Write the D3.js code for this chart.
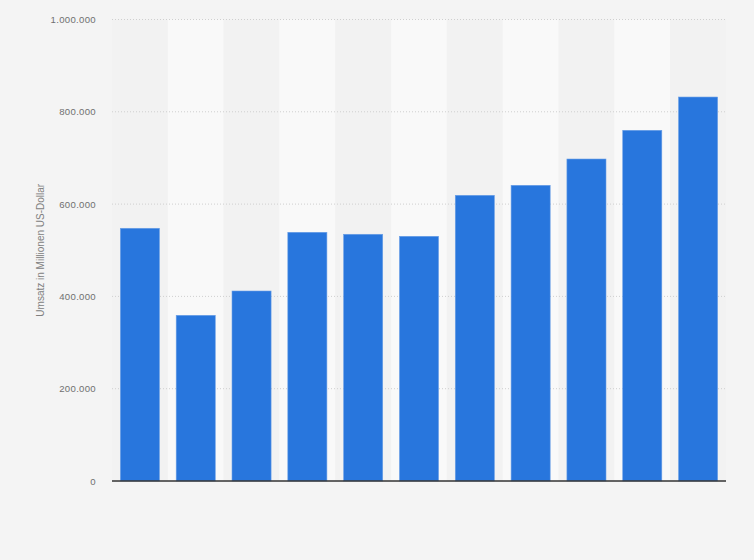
<!DOCTYPE html>
<html lang="de">
<head>
<meta charset="UTF-8">
<title>Umsatz</title>
<script src="https://d3js.org/d3.v7.min.js"></script>
<style>
  body { margin: 0; background: #f4f4f4; }
  svg { display: block; font-family: "Liberation Sans", Arial, sans-serif; }
</style>
</head>
<body>
<div id="chart"></div>
<script>
// Werte in Millionen US-Dollar
const categories = ["1", "2", "3", "4", "5", "6", "7", "8", "9", "10", "11"];
const values = [547600, 359000, 411700, 538900, 534600, 530200, 619000, 640700, 697700, 759900, 832000];
const yTicks = [0, 200000, 400000, 600000, 800000, 1000000];

const width = 754, height = 560;
const margin = { top: 19.5, right: 28, bottom: 79, left: 112 };
const innerW = width - margin.left - margin.right;
const innerH = height - margin.top - margin.bottom;

const svg = d3.select("#chart").append("svg")
  .attr("width", width)
  .attr("height", height);

svg.append("rect")
  .attr("width", width).attr("height", height)
  .attr("fill", "#f4f4f4");

const g = svg.append("g")
  .attr("transform", `translate(${margin.left},${margin.top})`);

const x = d3.scaleBand()
  .domain(categories)
  .range([0, innerW])
  .paddingInner(0.3)
  .paddingOuter(0.15);

const y = d3.scaleLinear()
  .domain([0, 1000000])
  .range([innerH, 0]);

// Spaltenhintergrund (abwechselnd)
const step = x.step();
g.selectAll(".stripe")
  .data(categories)
  .join("rect")
  .attr("class", "stripe")
  .attr("x", (d, i) => i * step)
  .attr("y", 0)
  .attr("width", step)
  .attr("height", innerH)
  .attr("fill", (d, i) => i % 2 ? "#f9f9f9" : "#f2f2f2");

// Gitternetz
const fmt = d3.formatLocale({ decimal: ",", thousands: ".", grouping: [3], currency: ["", " €"] }).format(",d");

g.selectAll(".grid")
  .data(yTicks.filter(d => d > 0))
  .join("line")
  .attr("class", "grid")
  .attr("x1", 0).attr("x2", innerW)
  .attr("y1", d => y(d)).attr("y2", d => y(d))
  .attr("stroke", "#cfcfcf")
  .attr("stroke-width", 1)
  .attr("stroke-dasharray", "1,2");

// Balken
g.selectAll(".bar")
  .data(values)
  .join("rect")
  .attr("class", "bar")
  .attr("x", (d, i) => x(categories[i]))
  .attr("y", d => y(d))
  .attr("width", x.bandwidth())
  .attr("height", d => innerH - y(d))
  .attr("fill", "#2876dd")
  .attr("stroke", "#6a9fe6")
  .attr("stroke-width", 0.6);

// y-Achse
const yAxis = g.append("g")
  .call(d3.axisLeft(y).tickValues(yTicks).tickFormat(fmt).tickSize(0).tickPadding(16));
yAxis.select(".domain").remove();
yAxis.selectAll("text")
  .attr("fill", "#707070")
  .attr("font-size", "9.6px")
  .attr("letter-spacing", "0.3px")
  .attr("font-family", "Liberation Sans, Arial, sans-serif");

// Grundlinie
g.append("line")
  .attr("x1", 0).attr("x2", innerW)
  .attr("y1", y(0)).attr("y2", y(0))
  .attr("stroke", "#333")
  .attr("stroke-width", 1.5);

// Achsentitel
svg.append("text")
  .attr("transform", `translate(44,${margin.top + innerH / 2}) rotate(-90)`)
  .attr("text-anchor", "middle")
  .attr("fill", "#808080")
  .attr("font-size", "10px")
  .text("Umsatz in Millionen US-Dollar");
</script>
</body>
</html>
